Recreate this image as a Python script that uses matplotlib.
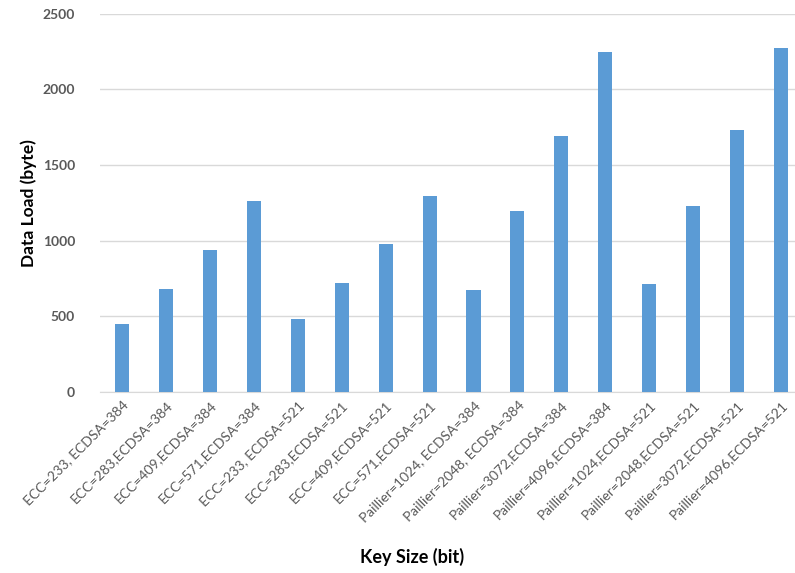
import matplotlib.pyplot as plt
import numpy as np

# categories and values
key_sizes = [
    "ECC=233, ECDSA=384", "ECC=283,ECDSA=384", "ECC=409,ECDSA=384", "ECC=571,ECDSA=384",
    "ECC=233, ECDSA=521", "ECC=283,ECDSA=521", "ECC=409,ECDSA=521", "ECC=571,ECDSA=521",
    "Paillier=1024, ECDSA=384", "Paillier=2048, ECDSA=384", "Paillier=3072,ECDSA=384",
    "Paillier=4096,ECDSA=384", "Paillier=1024,ECDSA=521", "Paillier=2048,ECDSA=521",
    "Paillier=3072,ECDSA=521", "Paillier=4096,ECDSA=521",
]
data_load = [447, 680, 938, 1262, 485, 718, 976, 1293,
             674, 1194, 1694, 2245, 712, 1232, 1732, 2276]
y_ticks = [0, 500, 1000, 1500, 2000, 2500]

bar_color = "#5B9BD5"
grid_color = "#D9D9D9"
tick_color = "#595959"

plt.rcParams['font.family'] = ['Lato', 'DejaVu Sans']

fig = plt.figure(figsize=(7.95, 5.73), dpi=100)
ax = fig.add_axes([0.126, 0.316, 0.884, 0.66])

x = np.arange(len(key_sizes))
ax.bar(x, data_load, width=0.32, color=bar_color, zorder=3)

ax.set_ylim(0, 2500)
ax.set_yticks(y_ticks)
ax.set_xlim(-0.5, len(key_sizes) - 0.5)
ax.set_xticks(x)
ax.set_xticklabels(key_sizes, rotation=45, ha="right", rotation_mode="anchor",
                   fontsize=10, color=tick_color)
for lbl in ax.get_yticklabels():
    lbl.set_fontweight("bold")
    lbl.set_color(tick_color)
    lbl.set_fontsize(10)

ax.grid(axis="y", color=grid_color, linewidth=1, zorder=0)
for s in ["top", "right", "left"]:
    ax.spines[s].set_visible(False)
ax.spines["bottom"].set_color(grid_color)
ax.tick_params(axis="both", length=0)
ax.tick_params(axis="y", pad=18)
ax.tick_params(axis="x", pad=5)

ax.set_ylabel("Data Load (byte)", fontsize=12.5, fontweight="bold", labelpad=4)
fig.text(0.518, 0.018, "Key Size (bit)", fontsize=13, fontweight="bold", ha="center")

fig.savefig("out.png", dpi=100, facecolor="white")
